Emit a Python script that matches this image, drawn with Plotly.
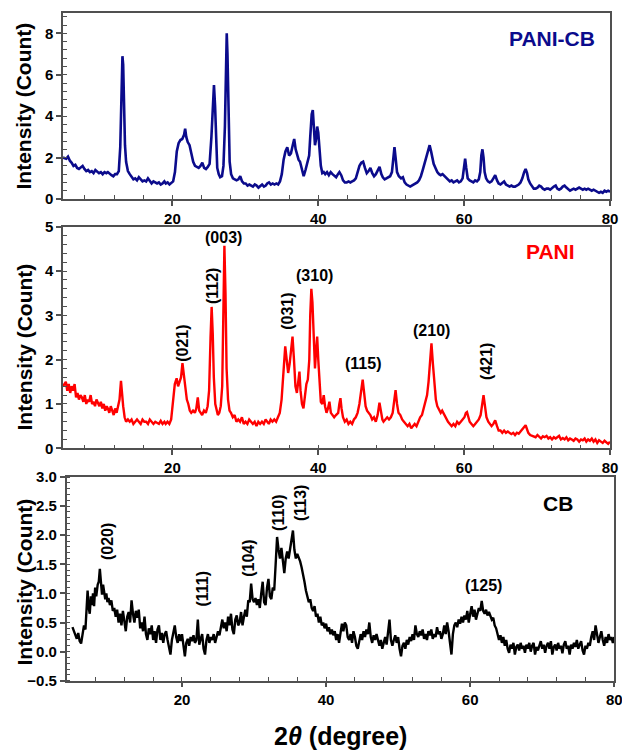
import plotly.graph_objects as go

# ---------------- data ----------------
# PANI-CB pattern (2theta, intensity)
pani_cb_points = [
    (5.0, 2.0), (5.44, 1.95), (5.69, 2.05), (5.94, 1.85), (6.19, 1.75), (6.44, 1.6), (6.69, 1.65),
    (6.94, 1.5), (7.19, 1.45), (7.44, 1.55), (7.69, 1.6), (7.94, 1.45), (8.19, 1.35), (8.44, 1.4),
    (8.69, 1.3), (8.94, 1.35), (9.19, 1.25), (9.44, 1.4), (9.69, 1.3), (9.94, 1.25), (10.19, 1.3),
    (10.44, 1.2), (10.69, 1.3), (10.94, 1.25), (11.15, 1.3), (11.4, 1.2), (11.65, 1.15), (11.9, 1.1),
    (12.15, 1.2), (12.4, 1.2), (12.65, 1.35), (12.85, 2.5), (13.0, 5.0), (13.15, 6.9), (13.25, 6.5),
    (13.35, 4.5), (13.5, 2.6), (13.65, 1.8), (13.9, 1.35), (14.15, 1.2), (14.4, 1.05), (14.65, 0.95),
    (14.9, 1.0), (15.15, 0.9), (15.4, 1.05), (15.65, 0.95), (15.9, 0.85), (16.15, 0.9), (16.4, 0.85),
    (16.65, 1.0), (16.9, 0.85), (17.15, 0.75), (17.4, 0.85), (17.65, 0.8), (17.9, 0.75), (18.15, 0.8),
    (18.4, 0.7), (18.65, 0.75), (18.9, 0.85), (19.1, 0.75), (19.35, 0.8), (19.6, 0.7), (19.85, 0.8),
    (20.1, 0.85), (20.35, 1.3), (20.6, 2.3), (20.85, 2.7), (21.1, 2.85), (21.35, 2.9), (21.6, 3.1),
    (21.75, 3.4), (21.9, 3.0), (22.1, 2.75), (22.35, 2.6), (22.6, 2.2), (22.85, 1.8), (23.1, 1.6),
    (23.35, 1.55), (23.6, 1.5), (23.85, 1.6), (24.1, 1.75), (24.35, 1.5), (24.6, 1.45), (24.85, 1.55),
    (25.1, 1.7), (25.35, 3.0), (25.55, 4.8), (25.7, 5.5), (25.85, 4.5), (26.0, 2.4), (26.15, 1.5),
    (26.35, 1.2), (26.55, 1.05), (26.8, 1.1), (27.0, 1.6), (27.2, 3.5), (27.35, 6.5), (27.45, 8.0),
    (27.55, 7.0), (27.7, 3.5), (27.85, 1.8), (28.05, 1.2), (28.3, 1.0), (28.55, 0.95), (28.8, 0.9),
    (29.05, 0.95), (29.3, 1.1), (29.55, 0.85), (29.8, 0.75), (30.05, 0.75), (30.3, 0.65), (30.55, 0.7),
    (30.8, 0.65), (31.05, 0.6), (31.3, 0.7), (31.55, 0.65), (31.8, 0.55), (32.05, 0.65), (32.3, 0.7),
    (32.55, 0.6), (32.8, 0.65), (33.0, 0.75), (33.25, 0.8), (33.5, 0.7), (33.75, 0.75), (34.0, 0.7),
    (34.25, 0.75), (34.5, 0.7), (34.75, 0.85), (35.0, 1.2), (35.25, 1.9), (35.5, 2.3), (35.75, 2.5),
    (36.0, 2.1), (36.25, 2.2), (36.5, 2.6), (36.7, 2.9), (36.9, 2.4), (37.1, 2.1), (37.3, 1.9),
    (37.5, 1.8), (37.75, 1.5), (38.0, 1.1), (38.25, 1.4), (38.5, 1.8), (38.75, 2.1), (38.9, 3.0),
    (39.1, 4.1), (39.25, 4.3), (39.4, 3.5), (39.55, 2.6), (39.7, 2.9), (39.85, 3.5), (40.0, 3.2),
    (40.15, 2.3), (40.35, 1.6), (40.55, 1.25), (40.75, 1.3), (40.95, 1.2), (41.2, 1.3), (41.45, 1.15),
    (41.7, 1.3), (41.95, 1.2), (42.2, 1.1), (42.45, 1.05), (42.7, 1.2), (42.9, 1.3), (43.15, 1.15),
    (43.4, 0.9), (43.65, 0.8), (43.9, 0.8), (44.15, 0.85), (44.4, 0.8), (44.65, 0.85), (44.9, 0.9),
    (45.15, 1.0), (45.4, 1.3), (45.65, 1.6), (45.9, 1.75), (46.15, 1.8), (46.4, 1.5), (46.65, 1.25),
    (46.9, 1.35), (47.15, 1.5), (47.4, 1.25), (47.65, 1.1), (47.9, 1.2), (48.15, 1.35), (48.4, 1.55),
    (48.65, 1.2), (48.85, 1.05), (49.1, 0.95), (49.35, 1.0), (49.6, 1.05), (49.85, 1.1), (50.1, 1.3),
    (50.3, 2.0), (50.45, 2.5), (50.6, 2.0), (50.8, 1.3), (51.05, 1.1), (51.35, 1.0), (51.6, 1.05),
    (51.85, 0.8), (52.1, 0.7), (52.35, 0.65), (52.6, 0.6), (52.82, 0.65), (53.07, 0.7), (53.32, 0.75),
    (53.57, 0.8), (53.82, 0.9), (54.07, 1.1), (54.32, 1.4), (54.57, 1.7), (54.82, 2.1), (55.07, 2.4),
    (55.27, 2.6), (55.47, 2.3), (55.67, 2.0), (55.82, 1.7), (56.07, 1.5), (56.32, 1.3), (56.57, 1.2),
    (56.79, 1.15), (57.04, 1.2), (57.29, 1.1), (57.54, 1.0), (57.79, 0.95), (58.04, 0.85), (58.29, 0.9),
    (58.54, 0.8), (58.79, 0.85), (59.04, 0.9), (59.29, 0.8), (59.54, 0.85), (59.79, 1.0), (59.99, 1.6),
    (60.14, 1.95), (60.29, 1.5), (60.49, 1.0), (60.76, 0.9), (61.01, 0.85), (61.26, 0.8), (61.51, 0.9),
    (61.76, 0.85), (62.01, 0.95), (62.21, 1.3), (62.36, 2.1), (62.51, 2.4), (62.66, 2.0), (62.81, 1.3),
    (63.01, 1.0), (63.26, 0.85), (63.51, 0.8), (63.76, 0.85), (64.01, 1.0), (64.26, 1.15), (64.51, 0.9),
    (64.73, 0.75), (64.98, 0.7), (65.23, 0.8), (65.48, 0.85), (65.73, 0.7), (65.98, 0.65), (66.23, 0.6),
    (66.48, 0.65), (66.73, 0.6), (66.98, 0.6), (67.23, 0.65), (67.48, 0.7), (67.73, 0.8), (67.98, 1.0),
    (68.23, 1.3), (68.43, 1.45), (68.63, 1.25), (68.8, 0.95), (69.05, 0.75), (69.3, 0.6), (69.55, 0.5),
    (69.8, 0.5), (70.05, 0.55), (70.3, 0.65), (70.55, 0.6), (70.8, 0.5), (71.05, 0.45), (71.3, 0.5),
    (71.55, 0.5), (71.8, 0.45), (72.05, 0.55), (72.3, 0.6), (72.55, 0.65), (72.77, 0.5), (73.02, 0.45),
    (73.27, 0.5), (73.52, 0.6), (73.77, 0.65), (74.02, 0.55), (74.27, 0.45), (74.52, 0.4), (74.77, 0.45),
    (75.02, 0.5), (75.27, 0.45), (75.52, 0.5), (75.77, 0.55), (76.02, 0.5), (76.27, 0.45), (76.52, 0.5),
    (76.75, 0.45), (77.0, 0.5), (77.25, 0.45), (77.5, 0.4), (77.75, 0.45), (78.0, 0.4), (78.25, 0.35),
    (78.5, 0.3), (78.75, 0.35), (79.0, 0.3), (79.25, 0.4), (79.5, 0.35), (79.75, 0.4), (80.0, 0.35),
]

# PANI pattern
pani_points = [
    (5.0, 1.4), (5.39, 1.5), (5.59, 1.3), (5.79, 1.45), (5.99, 1.25), (6.19, 1.4), (6.39, 1.3),
    (6.59, 1.45), (6.79, 1.15), (6.99, 1.25), (7.19, 1.1), (7.39, 1.2), (7.59, 1.15), (7.79, 1.05),
    (7.99, 1.2), (8.19, 1.0), (8.39, 1.1), (8.59, 1.05), (8.79, 1.2), (8.99, 1.0), (9.19, 1.05),
    (9.39, 0.95), (9.59, 1.1), (9.79, 1.0), (9.99, 0.95), (10.19, 1.05), (10.39, 0.9), (10.59, 1.0),
    (10.79, 0.85), (10.99, 0.95), (11.15, 0.9), (11.35, 0.8), (11.55, 0.95), (11.75, 0.85), (11.95, 0.75),
    (12.15, 0.9), (12.35, 0.8), (12.55, 0.95), (12.75, 1.1), (12.95, 1.52), (13.1, 1.2), (13.25, 0.95),
    (13.45, 0.7), (13.65, 0.6), (13.9, 0.65), (14.15, 0.6), (14.4, 0.65), (14.65, 0.55), (14.9, 0.6),
    (15.15, 0.65), (15.4, 0.6), (15.65, 0.55), (15.9, 0.65), (16.15, 0.6), (16.4, 0.6), (16.65, 0.55),
    (16.9, 0.65), (17.15, 0.6), (17.4, 0.55), (17.65, 0.6), (17.9, 0.58), (18.15, 0.55), (18.4, 0.62),
    (18.65, 0.55), (18.9, 0.6), (19.08, 0.55), (19.33, 0.6), (19.58, 0.55), (19.83, 0.65), (20.08, 1.0),
    (20.33, 1.45), (20.58, 1.58), (20.78, 1.4), (20.98, 1.5), (21.18, 1.6), (21.38, 1.92), (21.58, 1.6),
    (21.78, 1.35), (21.98, 1.1), (22.18, 1.0), (22.38, 0.85), (22.58, 0.8), (22.83, 0.85), (23.08, 0.8),
    (23.28, 0.9), (23.48, 1.15), (23.68, 0.85), (23.88, 0.8), (24.08, 0.75), (24.33, 0.85), (24.58, 0.8),
    (24.83, 0.95), (25.03, 1.3), (25.23, 2.5), (25.38, 3.19), (25.53, 2.6), (25.68, 1.6), (25.88, 1.0),
    (26.08, 0.85), (26.23, 0.75), (26.43, 0.8), (26.63, 0.95), (26.83, 1.4), (26.98, 3.0), (27.13, 4.57),
    (27.28, 3.5), (27.43, 1.8), (27.63, 1.1), (27.83, 0.85), (28.03, 0.8), (28.28, 0.7), (28.53, 0.75),
    (28.78, 0.6), (29.03, 0.65), (29.28, 0.6), (29.53, 0.7), (29.78, 0.55), (30.03, 0.6), (30.28, 0.55),
    (30.53, 0.65), (30.78, 0.6), (31.03, 0.55), (31.28, 0.6), (31.53, 0.5), (31.78, 0.6), (32.03, 0.55),
    (32.28, 0.6), (32.53, 0.55), (32.78, 0.65), (32.97, 0.6), (33.22, 0.55), (33.47, 0.65), (33.72, 0.6),
    (33.97, 0.65), (34.22, 0.6), (34.47, 0.7), (34.72, 0.8), (34.97, 1.1), (35.22, 1.8), (35.47, 2.3),
    (35.67, 2.0), (35.87, 1.7), (36.07, 1.9), (36.27, 2.3), (36.47, 2.52), (36.67, 2.0), (36.87, 1.4),
    (37.07, 1.25), (37.27, 1.6), (37.42, 1.73), (37.57, 1.3), (37.77, 1.0), (37.97, 0.9), (38.17, 1.2),
    (38.37, 1.45), (38.57, 1.55), (38.77, 2.0), (38.9, 3.0), (39.05, 3.6), (39.2, 3.3), (39.35, 2.5),
    (39.55, 1.8), (39.7, 2.2), (39.85, 2.52), (40.0, 2.0), (40.15, 1.5), (40.35, 1.05), (40.55, 1.0),
    (40.75, 1.2), (40.93, 0.95), (41.13, 0.8), (41.33, 0.9), (41.53, 1.05), (41.73, 0.8), (41.93, 0.75),
    (42.18, 0.7), (42.43, 0.75), (42.73, 0.8), (42.89, 1.0), (43.04, 1.13), (43.19, 0.9), (43.39, 0.7),
    (43.64, 0.6), (43.89, 0.65), (44.14, 0.55), (44.39, 0.6), (44.64, 0.55), (44.89, 0.65), (45.14, 0.7),
    (45.39, 0.8), (45.64, 1.0), (45.89, 1.3), (46.09, 1.55), (46.29, 1.25), (46.49, 0.95), (46.69, 0.85),
    (46.89, 0.8), (47.14, 0.75), (47.39, 0.65), (47.64, 0.7), (47.89, 0.6), (48.14, 0.75), (48.39, 1.03),
    (48.59, 0.8), (48.79, 0.65), (48.95, 0.6), (49.2, 0.65), (49.45, 0.7), (49.7, 0.65), (49.95, 0.7),
    (50.2, 0.8), (50.4, 1.1), (50.6, 1.31), (50.8, 1.0), (51.0, 0.8), (51.25, 0.75), (51.5, 0.65),
    (51.75, 0.6), (52.0, 0.55), (52.25, 0.5), (52.5, 0.55), (52.75, 0.45), (52.97, 0.5), (53.22, 0.55),
    (53.47, 0.5), (53.72, 0.6), (53.97, 0.7), (54.22, 0.75), (54.47, 0.9), (54.72, 1.05), (54.92, 1.2),
    (55.12, 1.5), (55.32, 1.9), (55.52, 2.37), (55.72, 1.9), (55.92, 1.5), (56.12, 1.1), (56.32, 0.95),
    (56.57, 0.85), (56.79, 0.8), (56.99, 0.85), (57.29, 0.75), (57.54, 0.7), (57.79, 0.6), (58.04, 0.55),
    (58.29, 0.5), (58.54, 0.55), (58.79, 0.5), (59.04, 0.6), (59.29, 0.55), (59.54, 0.6), (59.79, 0.65),
    (60.04, 0.7), (60.24, 0.8), (60.39, 0.82), (60.59, 0.7), (60.76, 0.6), (61.01, 0.55), (61.26, 0.5),
    (61.51, 0.55), (61.76, 0.6), (62.01, 0.65), (62.26, 0.75), (62.46, 1.0), (62.66, 1.2), (62.86, 0.95),
    (63.06, 0.7), (63.31, 0.6), (63.56, 0.55), (63.76, 0.5), (64.01, 0.55), (64.26, 0.63), (64.51, 0.5),
    (64.73, 0.4), (64.98, 0.4), (65.23, 0.35), (65.48, 0.4), (65.73, 0.35), (65.98, 0.38), (66.23, 0.35),
    (66.48, 0.32), (66.73, 0.35), (66.98, 0.3), (67.23, 0.35), (67.48, 0.33), (67.73, 0.38), (67.98, 0.42),
    (68.23, 0.48), (68.43, 0.52), (68.63, 0.42), (68.8, 0.35), (69.05, 0.3), (69.3, 0.28), (69.55, 0.27),
    (69.8, 0.25), (70.05, 0.3), (70.3, 0.25), (70.55, 0.22), (70.8, 0.27), (71.05, 0.25), (71.3, 0.28),
    (71.55, 0.22), (71.8, 0.25), (72.05, 0.2), (72.3, 0.25), (72.55, 0.22), (72.77, 0.25), (73.02, 0.28),
    (73.27, 0.2), (73.52, 0.23), (73.77, 0.2), (74.02, 0.25), (74.27, 0.18), (74.52, 0.22), (74.77, 0.2),
    (75.02, 0.17), (75.27, 0.22), (75.52, 0.2), (75.77, 0.15), (76.02, 0.2), (76.27, 0.18), (76.52, 0.22),
    (76.75, 0.15), (77.0, 0.2), (77.25, 0.17), (77.5, 0.22), (77.75, 0.15), (78.0, 0.2), (78.25, 0.12),
    (78.5, 0.18), (78.75, 0.15), (79.0, 0.12), (79.25, 0.17), (79.5, 0.13), (79.75, 0.1), (80.0, 0.15),
]

# CB pattern
cb_points = [
    (4.8, 0.42), (5.0, 0.35), (5.2, 0.3), (5.4, 0.22), (5.6, 0.32), (5.8, 0.18), (6.0, 0.14),
    (6.2, 0.3), (6.4, 0.45), (6.6, 0.38), (6.75, 0.7), (6.9, 1.05), (7.05, 0.75), (7.2, 0.65),
    (7.35, 0.95), (7.5, 0.8), (7.65, 1.0), (7.8, 0.78), (7.95, 1.1), (8.1, 0.95), (8.3, 1.15),
    (8.45, 1.2), (8.6, 1.42), (8.75, 1.1), (8.9, 0.98), (9.05, 1.15), (9.2, 1.05), (9.35, 0.9),
    (9.5, 1.0), (9.65, 0.85), (9.8, 0.92), (10.0, 0.8), (10.2, 0.88), (10.4, 0.7), (10.6, 0.75),
    (10.8, 0.6), (11.0, 0.72), (11.2, 0.5), (11.4, 0.65), (11.6, 0.45), (11.8, 0.7), (12.0, 0.55),
    (12.2, 0.35), (12.4, 0.6), (12.6, 0.68), (12.8, 0.5), (13.0, 0.88), (13.2, 0.65), (13.4, 0.5),
    (13.6, 0.7), (13.8, 0.58), (14.0, 0.72), (14.2, 0.4), (14.4, 0.5), (14.6, 0.35), (14.8, 0.6),
    (15.0, 0.3), (15.2, 0.2), (15.4, 0.4), (15.6, 0.3), (15.8, 0.45), (16.0, 0.2), (16.2, 0.35),
    (16.4, 0.15), (16.6, 0.38), (16.8, 0.45), (17.0, 0.2), (17.2, 0.32), (17.4, 0.15), (17.6, 0.3),
    (17.8, 0.35), (18.0, 0.2), (18.2, 0.1), (18.4, -0.05), (18.6, 0.2), (18.8, 0.32), (19.0, 0.45),
    (19.2, 0.25), (19.4, 0.15), (19.6, 0.3), (19.8, 0.18), (20.0, 0.3), (20.2, 0.1), (20.4, -0.08),
    (20.6, 0.15), (20.8, 0.22), (21.0, 0.1), (21.2, 0.25), (21.4, 0.18), (21.6, 0.28), (21.8, 0.15),
    (22.0, 0.2), (22.2, 0.55), (22.4, 0.12), (22.6, 0.22), (22.8, 0.3), (23.0, 0.05), (23.2, -0.05),
    (23.4, 0.2), (23.6, 0.3), (23.8, 0.15), (24.0, 0.25), (24.2, 0.2), (24.4, 0.3), (24.6, 0.15),
    (24.8, 0.25), (25.0, 0.35), (25.2, 0.28), (25.4, 0.45), (25.6, 0.55), (25.8, 0.4), (26.0, 0.5),
    (26.2, 0.35), (26.4, 0.6), (26.6, 0.45), (26.8, 0.65), (27.0, 0.38), (27.2, 0.3), (27.4, 0.55),
    (27.6, 0.62), (27.8, 0.45), (28.0, 0.5), (28.2, 0.68), (28.4, 0.45), (28.6, 0.6), (28.8, 0.72),
    (29.0, 0.6), (29.2, 0.88), (29.4, 0.85), (29.6, 1.17), (29.8, 0.9), (30.0, 0.85), (30.2, 0.92),
    (30.4, 0.8), (30.6, 0.9), (30.8, 0.75), (31.0, 1.0), (31.2, 1.2), (31.4, 0.85), (31.6, 0.8),
    (31.8, 1.1), (32.0, 1.25), (32.2, 0.95), (32.4, 0.9), (32.6, 1.1), (32.8, 1.05), (33.0, 1.5),
    (33.2, 1.97), (33.4, 1.75), (33.6, 1.6), (33.8, 1.78), (34.0, 1.55), (34.2, 1.35), (34.4, 1.6),
    (34.6, 1.72), (34.8, 1.6), (35.0, 1.75), (35.2, 1.85), (35.4, 2.08), (35.6, 1.75), (35.8, 1.6),
    (36.0, 1.68), (36.2, 1.62), (36.4, 1.55), (36.6, 1.45), (36.8, 1.35), (37.0, 1.2), (37.2, 1.05),
    (37.4, 0.95), (37.6, 0.85), (37.8, 0.9), (38.0, 0.75), (38.2, 0.7), (38.4, 0.78), (38.6, 0.6),
    (38.8, 0.65), (39.0, 0.5), (39.2, 0.6), (39.4, 0.45), (39.6, 0.5), (39.8, 0.4), (40.0, 0.48),
    (40.2, 0.35), (40.4, 0.42), (40.6, 0.3), (40.8, 0.38), (41.0, 0.28), (41.2, 0.35), (41.4, 0.2),
    (41.6, 0.3), (41.8, 0.15), (42.0, 0.3), (42.2, 0.48), (42.4, 0.35), (42.6, 0.5), (42.8, 0.45),
    (43.0, 0.25), (43.2, 0.2), (43.4, 0.3), (43.6, 0.15), (43.8, 0.35), (44.0, 0.25), (44.2, 0.1),
    (44.4, 0.05), (44.6, 0.2), (44.8, 0.3), (45.0, 0.2), (45.2, 0.35), (45.4, 0.25), (45.6, 0.38),
    (45.8, 0.3), (46.0, 0.5), (46.2, 0.25), (46.4, 0.15), (46.6, 0.28), (46.8, 0.2), (47.0, 0.3),
    (47.2, 0.22), (47.4, 0.1), (47.6, 0.2), (47.8, 0.05), (48.0, 0.15), (48.2, 0.25), (48.4, 0.12),
    (48.6, 0.3), (48.8, 0.55), (49.0, 0.2), (49.2, 0.1), (49.4, 0.2), (49.6, 0.28), (49.8, 0.15),
    (50.0, 0.25), (50.2, 0.05), (50.4, -0.08), (50.6, 0.1), (50.8, 0.15), (51.0, 0.05), (51.2, 0.2),
    (51.4, 0.12), (51.6, 0.25), (51.8, 0.18), (52.0, 0.3), (52.2, 0.2), (52.4, 0.45), (52.6, 0.3),
    (52.8, 0.25), (53.0, 0.35), (53.2, 0.28), (53.4, 0.38), (53.6, 0.22), (53.8, 0.3), (54.0, 0.2),
    (54.2, 0.35), (54.4, 0.28), (54.6, 0.38), (54.8, 0.22), (55.0, 0.3), (55.2, 0.25), (55.4, 0.42),
    (55.6, 0.3), (55.8, 0.35), (56.0, 0.22), (56.2, 0.3), (56.4, 0.45), (56.6, 0.3), (56.8, 0.5),
    (57.0, 0.35), (57.2, 0.15), (57.4, -0.05), (57.6, 0.3), (57.8, 0.45), (58.0, 0.5), (58.2, 0.42),
    (58.4, 0.55), (58.6, 0.48), (58.8, 0.6), (59.0, 0.5), (59.2, 0.62), (59.4, 0.55), (59.6, 0.7),
    (59.8, 0.5), (60.0, 0.65), (60.2, 0.78), (60.4, 0.6), (60.6, 0.72), (60.8, 0.55), (61.0, 0.68),
    (61.2, 0.75), (61.4, 0.7), (61.6, 0.87), (61.8, 0.7), (62.0, 0.65), (62.2, 0.72), (62.4, 0.62),
    (62.6, 0.68), (62.8, 0.6), (63.0, 0.55), (63.2, 0.58), (63.4, 0.45), (63.6, 0.4), (63.8, 0.3),
    (64.0, 0.2), (64.2, 0.28), (64.4, 0.15), (64.6, 0.25), (64.8, 0.1), (65.0, 0.2), (65.2, 0.05),
    (65.4, -0.02), (65.6, 0.12), (65.8, 0.05), (66.0, 0.15), (66.2, -0.05), (66.4, 0.08), (66.6, 0.12),
    (66.8, 0.02), (67.0, 0.15), (67.2, 0.05), (67.4, 0.1), (67.6, -0.02), (67.8, 0.12), (68.0, 0.05),
    (68.2, 0.15), (68.4, 0.0), (68.6, 0.1), (68.8, 0.15), (69.0, -0.05), (69.2, 0.08), (69.4, 0.02),
    (69.6, 0.12), (69.8, 0.18), (70.0, 0.05), (70.2, 0.12), (70.4, -0.02), (70.6, 0.1), (70.8, 0.15),
    (71.0, 0.05), (71.2, 0.18), (71.4, -0.05), (71.6, 0.08), (71.8, 0.12), (72.0, 0.02), (72.2, 0.15),
    (72.4, 0.05), (72.6, 0.1), (72.8, -0.03), (73.0, 0.12), (73.2, 0.18), (73.4, 0.05), (73.6, 0.1),
    (73.8, -0.05), (74.0, 0.12), (74.2, 0.05), (74.4, 0.15), (74.6, 0.08), (74.8, 0.2), (75.0, 0.05),
    (75.2, 0.12), (75.4, 0.18), (75.6, 0.02), (75.8, -0.05), (76.0, 0.1), (76.2, 0.05), (76.4, 0.15),
    (76.6, 0.1), (76.8, 0.25), (77.0, 0.35), (77.2, 0.2), (77.4, 0.45), (77.6, 0.3), (77.8, 0.15),
    (78.0, 0.25), (78.2, 0.35), (78.4, 0.2), (78.6, 0.1), (78.8, 0.25), (79.0, 0.15), (79.2, 0.3),
    (79.4, 0.2), (79.6, 0.25), (79.8, 0.15), (80.0, 0.25),
]

series_names = ["PANI-CB", "PANI", "CB"]
series_colors = ["#0b0b8c", "#ff0000", "#000000"]

x_tick_labels = [20, 40, 60, 80]

# peak labels: (text, 2theta, intensity, vertical?)
pani_labels = [
    ("(021)", 21.45, 2.38, True), ("(112)", 25.43, 3.66, True), ("(003)", 26.94, 4.75, False),
    ("(031)", 35.85, 3.08, True), ("(310)", 39.55, 3.91, False), ("(115)", 46.14, 1.92, False),
    ("(210)", 55.46, 2.65, False), ("(421)", 63.14, 1.95, True),
]
cb_labels = [
    ("(020)", 9.59, 1.90, True), ("(111)", 22.9, 1.08, True), ("(104)", 29.28, 1.61, True),
    ("(110)", 33.3, 2.38, True), ("(113)", 36.36, 2.55, True), ("(125)", 61.88, 1.13, False),
]

# ---------------- figure ----------------
FONT = "Liberation Sans, Arial, sans-serif"
FRAME = "#505050"
W, H = 622, 750

fig = go.Figure()
for pts, name, col, xa, ya, lw in [
    (pani_cb_points, series_names[0], series_colors[0], "x", "y", 2.6),
    (pani_points, series_names[1], series_colors[1], "x2", "y2", 2.4),
    (cb_points, series_names[2], series_colors[2], "x3", "y3", 2.4),
]:
    xs = [p[0] for p in pts]
    ys = [p[1] for p in pts]
    fig.add_trace(go.Scatter(x=xs, y=ys, mode="lines", name=name, xaxis=xa, yaxis=ya,
                             line=dict(color=col, width=lw), showlegend=False))

tickfont = dict(family=FONT, size=15, color="black", weight="bold")


def xax(domain, anchor, rng):
    return dict(domain=domain, anchor=anchor, range=rng, tickmode="array", tickvals=x_tick_labels,
                ticks="outside", ticklen=5, tickwidth=1.5, tickcolor=FRAME,
                showline=True, linecolor=FRAME, linewidth=1.5, mirror=True,
                showgrid=False, zeroline=False, tickfont=tickfont, automargin=False,
                ticklabeloverflow="allow",
                minor=dict(tickmode="linear", tick0=0, dtick=4, ticks="inside", ticklen=4,
                           tickwidth=1, tickcolor=FRAME, showgrid=False))


def yax(domain, anchor, rng, dtick, mdtick, fmt=None):
    d = dict(domain=domain, anchor=anchor, range=rng, tickmode="linear", tick0=0, dtick=dtick,
             ticks="outside", ticklen=5, tickwidth=1.5, tickcolor=FRAME,
             showline=True, linecolor=FRAME, linewidth=1.5, mirror=True,
             showgrid=False, zeroline=False, tickfont=tickfont, automargin=False,
             ticklabeloverflow="allow",
             minor=dict(tickmode="linear", tick0=0, dtick=mdtick, ticks="inside", ticklen=4,
                        tickwidth=1, tickcolor=FRAME, showgrid=False))
    if fmt:
        d["tickformat"] = fmt
    return d


xd12 = [63 / W, 610 / W]
xd3 = [66.7 / W, 614.3 / W]
fig.update_layout(
    width=W, height=H, margin=dict(l=0, r=0, t=0, b=0, pad=0),
    paper_bgcolor="white", plot_bgcolor="white", template="none",
    xaxis=xax(xd12, "y", [5, 80]),
    xaxis2=xax(xd12, "y2", [5, 80]),
    xaxis3=xax(xd3, "y3", [4, 80]),
    yaxis=yax([1 - 199 / H, 1 - 12.7 / H], "x", [0, 9], 2, 0.4),
    yaxis2=yax([1 - 448.3 / H, 1 - 226.7 / H], "x2", [0, 5], 1, 0.2),
    yaxis3=yax([1 - 680.7 / H, 1 - 477 / H], "x3", [-0.5, 3.0], 0.5, 0.1, ".1f"),
    showlegend=False,
)

ann = []
lab_font = dict(family=FONT, size=16, color="black", weight="bold")
for txt, xv, yv, vert in pani_labels:
    ann.append(dict(text=txt, x=xv, y=yv, xref="x2", yref="y2", showarrow=False,
                    textangle=-90 if vert else 0, font=lab_font, xanchor="center", yanchor="middle"))
for txt, xv, yv, vert in cb_labels:
    ann.append(dict(text=txt, x=xv, y=yv, xref="x3", yref="y3", showarrow=False,
                    textangle=-90 if vert else 0, font=lab_font, xanchor="center", yanchor="middle"))

name_font = dict(family=FONT, size=21, weight="bold")
ann.append(dict(text=series_names[0], x=72.05, y=7.73, xref="x", yref="y", showarrow=False,
                font=dict(name_font, color=series_colors[0]), xanchor="center", yanchor="middle"))
ann.append(dict(text=series_names[1], x=71.8, y=4.43, xref="x2", yref="y2", showarrow=False,
                font=dict(name_font, color=series_colors[1]), xanchor="center", yanchor="middle"))
ann.append(dict(text=series_names[2], x=72.14, y=2.55, xref="x3", yref="y3", showarrow=False,
                font=dict(name_font, color=series_colors[2]), xanchor="center", yanchor="middle"))

ytitle_font = dict(family=FONT, size=21, color="black", weight="bold")
for yc in [106, 347, 582]:
    ann.append(dict(text="Intensity (Count)", x=23.5 / W, y=1 - yc / H, xref="paper", yref="paper",
                    showarrow=False, textangle=-90, font=ytitle_font,
                    xanchor="center", yanchor="middle"))

ann.append(dict(text="2<i>θ</i> (degree)", x=340.5 / W, y=1 - 736 / H, xref="paper", yref="paper",
                showarrow=False, font=dict(family=FONT, size=25, color="black", weight="bold"),
                xanchor="center", yanchor="middle"))

fig.update_layout(annotations=ann)
fig.write_html("out.html")
